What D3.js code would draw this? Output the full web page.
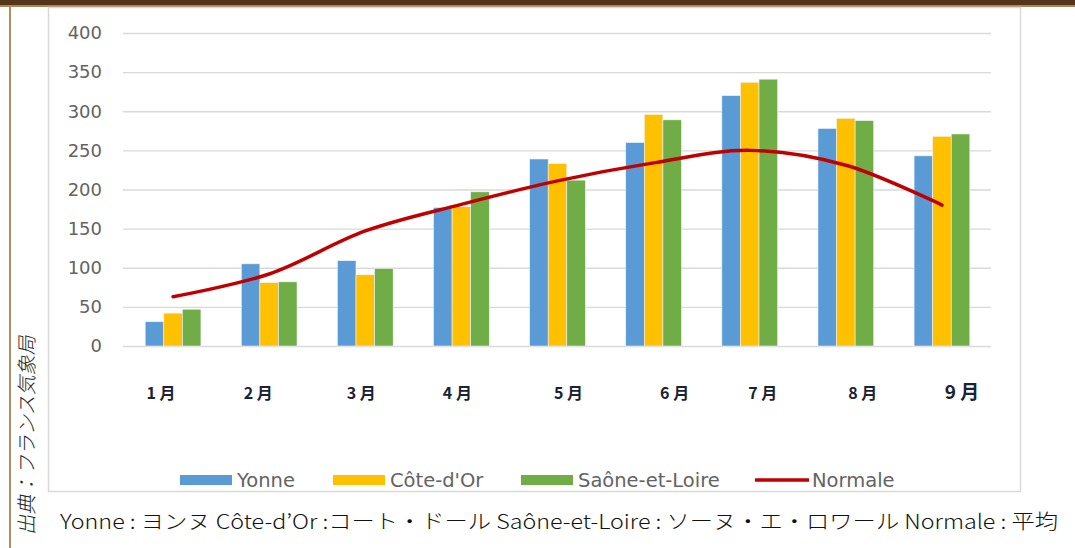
<!DOCTYPE html>
<html>
<head>
<meta charset="utf-8">
<script src="https://cdn.jsdelivr.net/npm/d3@7/dist/d3.min.js"></script>
<style>
  html, body { margin: 0; padding: 0; background: #fff; }
  svg { display: block; }
</style>
</head>
<body>
<svg id="chart" width="1075" height="548"></svg>
<script>
// Monthly values per département (Bourgogne), with the seasonal normal
const months = ["1月", "2月", "3月", "4月", "5月", "6月", "7月", "8月", "9月"];
const seriesNames = ["Yonne", "Côte-d'Or", "Saône-et-Loire"];
const yonne = [31, 105, 109, 177, 239, 260, 320, 278, 243];
const coteDOr = [42, 81, 91, 178, 233, 296, 337, 291, 268];
const saoneEtLoire = [47, 82, 99, 197, 212, 289, 341, 288, 271];
const normale = [63, 92, 147, 181, 211, 234, 250, 231, 180];
const yTicks = [0, 50, 100, 150, 200, 250, 300, 350, 400];
const legendLabels = ["Yonne", "Côte-d'Or", "Saône-et-Loire", "Normale"];
const sourceNote = "出典：フランス気象局";
const footnote = "Yonne : ヨンヌ Côte-d’Or :コート・ドール Saône-et-Loire : ソーヌ・エ・ロワール Normale : 平均";

const colors = ["#5b9bd5", "#ffc000", "#70ad47"];
const lineColor = "#c00000";
const seriesValues = [yonne, coteDOr, saoneEtLoire];

const svg = d3.select("#chart");

// page frame: dark band on top, tan rule below it and down the left side
svg.append("rect").attr("x", 0).attr("y", 0).attr("width", 1075).attr("height", 5).attr("fill", "#553519");
svg.append("rect").attr("x", 0).attr("y", 5).attr("width", 1075).attr("height", 2).attr("fill", "#a7875a");
svg.append("rect").attr("x", 9).attr("y", 5).attr("width", 2).attr("height", 543).attr("fill", "#ad8f62");

// chart box
svg.append("rect")
  .attr("x", 48.5).attr("y", 7.5).attr("width", 972).attr("height", 484)
  .attr("fill", "#fff").attr("stroke", "#d9d9d9").attr("stroke-width", 1.5);

const plot = { left: 125, right: 990, top: 33, bottom: 346 };

const x = d3.scaleBand().domain(months).range([plot.left, plot.right]).paddingInner(0.42).paddingOuter(0.21);
const xs = d3.scaleBand().domain(seriesNames).range([0, x.bandwidth()]);
const y = d3.scaleLinear().domain([0, 400]).range([plot.bottom, plot.top]);

// gridlines
svg.append("g")
  .selectAll("line")
  .data(yTicks)
  .join("line")
  .attr("x1", plot.left - 2).attr("x2", plot.right + 1)
  .attr("y1", d => y(d) + 0.5).attr("y2", d => y(d) + 0.5)
  .attr("stroke", "#d9d9d9").attr("stroke-width", 1.3);

// y axis labels
const yAxis = svg.append("g")
  .attr("transform", `translate(102,0)`)
  .call(d3.axisLeft(y).tickValues(yTicks).tickSize(0).tickPadding(0));
yAxis.select(".domain").remove();
yAxis.selectAll("text")
  .attr("font-family", "DejaVu Sans, sans-serif")
  .attr("font-size", 18)
  .attr("fill", "#636363");

// bars
const groups = svg.append("g")
  .selectAll("g")
  .data(months.map((m, i) => ({ month: m, vals: seriesValues.map((s, k) => ({ name: seriesNames[k], value: s[i], color: colors[k] })) })))
  .join("g")
  .attr("transform", d => `translate(${x(d.month)},0)`);

groups.selectAll("rect")
  .data(d => d.vals)
  .join("rect")
  .attr("x", d => xs(d.name))
  .attr("width", xs.bandwidth())
  .attr("y", d => y(d.value))
  .attr("height", d => y(0) - y(d.value))
  .attr("fill", d => d.color)
  .attr("stroke", "#eef4f9")
  .attr("stroke-width", 0.6);

// smoothed normal line
const line = d3.line()
  .x((d, i) => x(months[i]) + x.bandwidth() / 2)
  .y(d => y(d))
  .curve(d3.curveCatmullRom.alpha(0.5));

svg.append("path")
  .datum(normale)
  .attr("d", line)
  .attr("fill", "none")
  .attr("stroke", lineColor)
  .attr("stroke-width", 3.5)
  .attr("stroke-linecap", "round");

// month labels (hand-placed under the groups)
const labelNudge = [-12, -11, -4, -4, 11, 21, 13, 17, 20];
svg.append("g")
  .selectAll("text")
  .data(months)
  .join("text")
  .attr("x", (d, i) => x(d) + x.bandwidth() / 2 + labelNudge[i])
  .attr("y", 399)
  .attr("text-anchor", "middle")
  .attr("font-family", "Noto Sans CJK JP, sans-serif")
  .attr("font-weight", 700)
  .attr("font-size", (d, i) => i === 8 ? 19 : 16)
  .attr("fill", "#1a2233")
  .text(d => d.replace("月", " 月"));

// legend
const legendX = [180, 333, 521, 755];
const legend = svg.append("g")
  .selectAll("g")
  .data(legendLabels)
  .join("g")
  .attr("transform", (d, i) => `translate(${legendX[i]},480)`);

legend.each(function (d, i) {
  const g = d3.select(this);
  if (i < 3) {
    g.append("rect").attr("x", 0).attr("y", -5).attr("width", 52).attr("height", 10).attr("fill", colors[i]);
  } else {
    g.append("line").attr("x1", 0).attr("x2", 54).attr("y1", 0).attr("y2", 0)
      .attr("stroke", lineColor).attr("stroke-width", 3.5);
  }
  g.append("text")
    .attr("x", 57).attr("y", 0).attr("dy", "0.35em")
    .attr("font-family", "DejaVu Sans, sans-serif")
    .attr("font-size", 19.5)
    .attr("fill", "#636363")
    .text(d);
});

// source note, written vertically on the left
svg.append("text")
  .attr("transform", "translate(34,435) rotate(-90) skewX(-12)")
  .attr("text-anchor", "middle")
  .attr("font-family", "Noto Sans CJK JP, sans-serif")
  .attr("font-weight", 300)
  .attr("font-size", 20)
  .attr("fill", "#222")
  .text(sourceNote);

// footnote with Japanese readings
svg.append("text")
  .attr("x", 60).attr("y", 529)
  .attr("font-family", "Noto Sans CJK JP, sans-serif")
  .attr("font-weight", 300)
  .attr("font-size", 20)
  .attr("fill", "#111")
  .attr("textLength", 998)
  .attr("lengthAdjust", "spacingAndGlyphs")
  .text(footnote);
</script>
</body>
</html>
